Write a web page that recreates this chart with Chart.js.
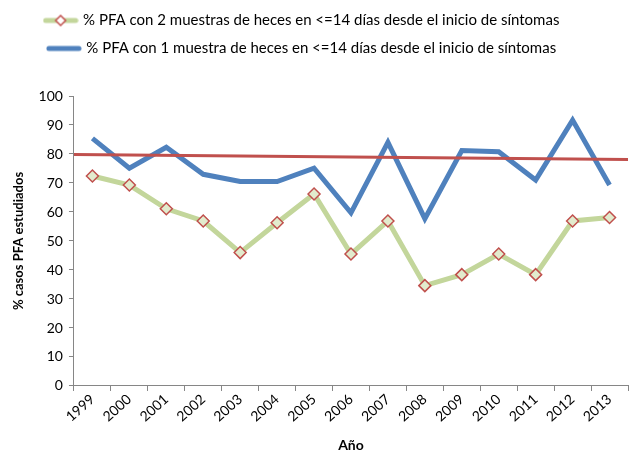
<!DOCTYPE html>
<html>
<head>
<meta charset="utf-8">
<script src="https://cdn.jsdelivr.net/npm/chart.js@4"></script>
<style>
  body { margin: 0; background: #fff; }
  #wrap { width: 630px; height: 454px; }
</style>
</head>
<body>
<div id="wrap"><canvas id="pfaChart"></canvas></div>
<script>
const years = ["1999", "2000", "2001", "2002", "2003", "2004", "2005", "2006",
  "2007", "2008", "2009", "2010", "2011", "2012", "2013"];
// % with 2 samples in <=14 days
const twoSamples = [72.4, 69.3, 61.1, 56.9, 46.0, 56.3, 66.2, 45.5,
  56.9, 34.6, 38.4, 45.5, 38.4, 56.9, 58.1];
// % with 1 sample in <=14 days
const oneSample = [85.4, 75.1, 82.3, 73.0, 70.5, 70.5, 75.1, 59.7,
  84.0, 57.7, 81.2, 80.8, 71.0, 91.7, 69.3];
// trend line, start and end values (edge to edge of plot)
const trendX = [-0.5, 14.5];
const trendY = [79.8, 78.1];

const labelTwo = "% PFA con 2 muestras de heces en <=14 días desde el inicio de síntomas";
const labelOne = "% PFA con 1 muestra de heces en <=14 días desde el inicio de síntomas";

const GREEN = "#C3D69B";
const BLUE = "#4F81BD";
const RED = "#C0504D";
const AXIS = "#868686";
const FONT = "Lato, 'Open Sans', sans-serif";

function legendIcon(color, marker) {
  const c = document.createElement("canvas");
  c.width = 36;
  c.height = 14;
  const g = c.getContext("2d");
  g.strokeStyle = color;
  g.lineWidth = 5;
  g.lineCap = "round";
  g.beginPath();
  g.moveTo(3, 7);
  g.lineTo(33, 7);
  g.stroke();
  if (marker) {
    g.fillStyle = "#fff";
    g.strokeStyle = RED;
    g.lineWidth = 1.5;
    g.beginPath();
    g.moveTo(18, 2);
    g.lineTo(23, 7);
    g.lineTo(18, 12);
    g.lineTo(13, 7);
    g.closePath();
    g.fill();
    g.stroke();
  }
  return c;
}

const icons = [legendIcon(GREEN, true), legendIcon(BLUE, false)];

// extra room under the legend, and nudge it a bit to the left like the original
const legendGap = {
  id: "legendGap",
  beforeInit(chart) {
    const fit = chart.legend.fit;
    chart.legend.fit = function () {
      fit.bind(chart.legend)();
      this.height += 30;
    };
  },
  afterLayout(chart) {
    chart.legend.left -= 17;
    chart.legend.right -= 17;
  },
};

const ctx = document.getElementById("pfaChart").getContext("2d");
const pfaChart = new Chart(ctx, {
  type: "line",
  data: {
    labels: years,
    datasets: [
      {
        label: "tendencia",
        data: trendX.map((x, i) => ({ x: x, y: trendY[i] })),
        xAxisID: "xt",
        borderColor: RED,
        borderWidth: 3,
        pointRadius: 0,
        order: 0,
      },
      {
        label: labelTwo,
        data: twoSamples,
        borderColor: GREEN,
        borderWidth: 5,
        pointStyle: "rectRot",
        pointRadius: 6,
        pointBackgroundColor: "#E2EBCD",
        pointBorderColor: RED,
        pointBorderWidth: 1.5,
        order: 1,
      },
      {
        label: labelOne,
        data: oneSample,
        borderColor: BLUE,
        borderWidth: 5,
        pointRadius: 0,
        order: 2,
      },
    ],
  },
  plugins: [legendGap],
  options: {
    responsive: true,
    maintainAspectRatio: false,
    animation: false,
    layout: { autoPadding: false, padding: { left: 11, right: 2, top: 0, bottom: 0 } },
    plugins: {
      tooltip: { enabled: false },
      legend: {
        position: "top",
        labels: {
          font: { family: FONT, size: 15 },
          color: "#000",
          usePointStyle: true,
          pointStyleWidth: 30,
          padding: 13,
          generateLabels: (chart) =>
            [labelTwo, labelOne].map((t, i) => ({
              text: t,
              pointStyle: icons[i],
              fillStyle: "transparent",
              strokeStyle: "transparent",
              lineWidth: 0,
              datasetIndex: i + 1,
            })),
        },
      },
    },
    scales: {
      x: {
        offset: true,
        grid: { offset: true, drawOnChartArea: false, color: AXIS, tickLength: 5 },
        border: { color: AXIS, width: 1 },
        ticks: {
          font: { family: FONT, size: 14 },
          color: "#000",
          minRotation: 42,
          maxRotation: 42,
          padding: 0,
        },
        title: {
          display: true,
          text: "Año",
          font: { family: FONT, size: 14, weight: "bold" },
          color: "#000",
          padding: { top: 12, bottom: 0 },
        },
      },
      xt: {
        type: "linear",
        display: false,
        min: -0.5,
        max: 14.5,
      },
      y: {
        min: 0,
        max: 100,
        grid: { drawOnChartArea: false, color: AXIS, tickLength: 5 },
        border: { color: AXIS, width: 1 },
        ticks: {
          stepSize: 10,
          font: { family: FONT, size: 14 },
          color: "#000",
          padding: 6,
        },
        title: {
          display: true,
          text: "% casos PFA estudiados",
          font: { family: FONT, size: 13, weight: "bold" },
          color: "#000",
          padding: { top: 0, bottom: 6 },
        },
      },
    },
  },
});
</script>
</body>
</html>
